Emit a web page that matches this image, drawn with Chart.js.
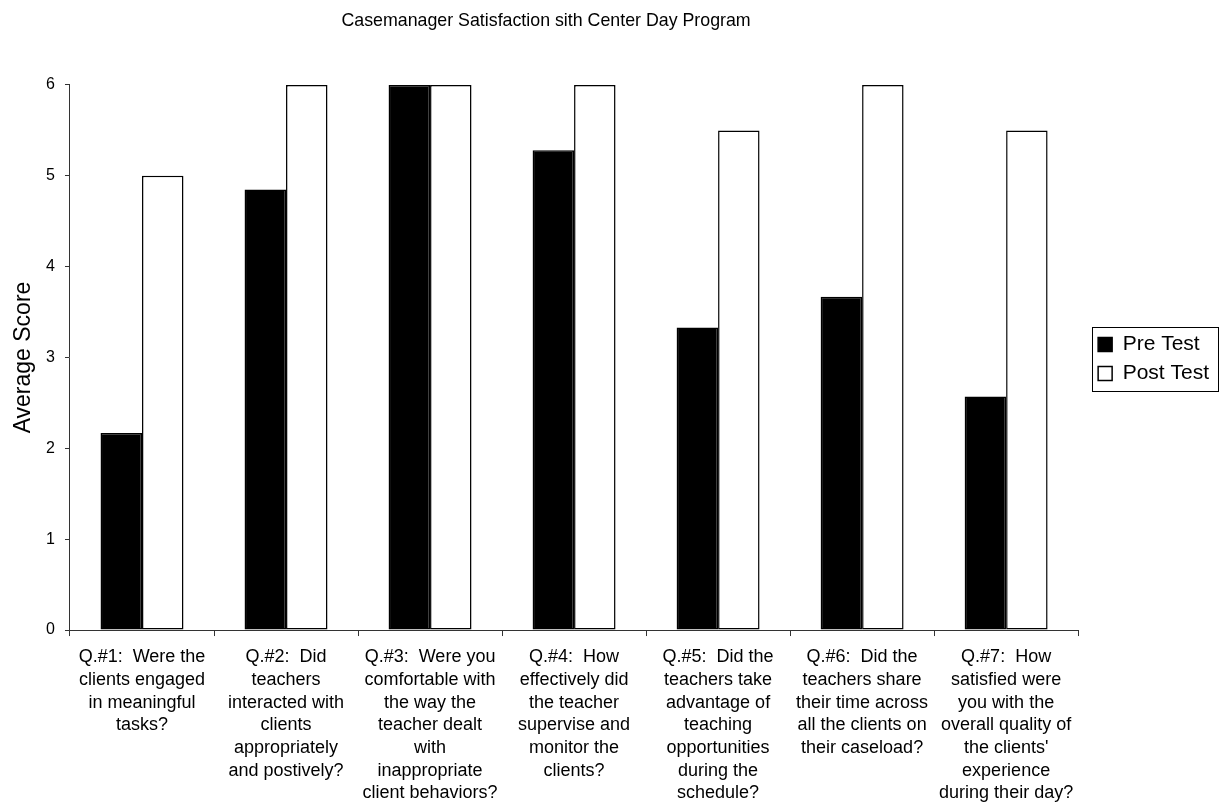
<!DOCTYPE html>
<html>
<head>
<meta charset="utf-8">
<script src="https://cdn.jsdelivr.net/npm/chart.js@4.4.0/dist/chart.umd.min.js"></script>
<style>
html, body { margin: 0; padding: 0; background: #ffffff; }
#wrap { width: 1228px; height: 805px; position: relative; }
</style>
</head>
<body>
<div id="wrap"><canvas id="c" width="1228" height="805"></canvas></div>
<script>
// ---- data ----
const chartTitle = "Casemanager Satisfaction sith Center Day Program";
const yAxisTitle = "Average Score";
const seriesNames = ["Pre Test", "Post Test"];
const categories = [
  ["Q.#1:  Were the", "clients engaged", "in meaningful", "tasks?"],
  ["Q.#2:  Did", "teachers", "interacted with", "clients", "appropriately", "and postively?"],
  ["Q.#3:  Were you", "comfortable with", "the way the", "teacher dealt", "with", "inappropriate", "client behaviors?"],
  ["Q.#4:  How", "effectively did", "the teacher", "supervise and", "monitor the", "clients?"],
  ["Q.#5:  Did the", "teachers take", "advantage of", "teaching", "opportunities", "during the", "schedule?"],
  ["Q.#6:  Did the", "teachers share", "their time across", "all the clients on", "their caseload?"],
  ["Q.#7:  How", "satisfied were", "you with the", "overall quality of", "the clients'", "experience", "during their day?"]
];
const preTest  = [2.17, 4.85, 6, 5.28, 3.33, 3.67, 2.57];
const postTest = [5, 6, 6, 6, 5.5, 6, 5.5];
const yTicks = [0, 1, 2, 3, 4, 5, 6];

const FONT = "'Liberation Sans', Arial, Helvetica, sans-serif";
const AXIS_COLOR = '#333333';

const legendFrame = {
  id: 'legendFrame',
  beforeDraw(chart) {
    const lg = chart.legend;
    const pad = lg.options.labels.padding;
    const shift = chart.chartArea.right + 20 - pad - lg.left;
    lg.left += shift; lg.right += shift;
    lg.top += 1.5; lg.bottom += 1.5;
    lg.legendHitBoxes.forEach(h => { h.left += shift; h.top += 1.5; });
    const markerLeft = lg.left + pad;
    const colW = lg.columnSizes[0].width;
    const hb = lg.legendHitBoxes;
    chart.$frame = {
      left: markerLeft - 6,
      right: markerLeft + colW + 9,
      top: hb[0].top - 7,
      bottom: hb[hb.length - 1].top + hb[hb.length - 1].height + 7
    };
    const t = chart.titleBlock;
    t.left = 0; t.right = chart.$frame.left;
  },
  afterDraw(chart) {
    const f = chart.$frame; if (!f) return;
    const ctx = chart.ctx;
    ctx.save();
    ctx.strokeStyle = '#000';
    ctx.lineWidth = 1;
    ctx.strokeRect(Math.round(f.left) + 0.5, Math.round(f.top) + 0.5,
                   Math.round(f.right - f.left), Math.round(f.bottom - f.top));
    ctx.restore();
  }
};

new Chart(document.getElementById('c'), {
  type: 'bar',
  data: {
    labels: categories,
    datasets: [
      { label: seriesNames[0], data: preTest, backgroundColor: '#000000', borderColor: '#000000', borderWidth: 1.5, borderSkipped: false },
      { label: seriesNames[1], data: postTest, backgroundColor: '#ffffff', borderColor: '#000000', borderWidth: 1.5, borderSkipped: false }
    ]
  },
  options: {
    responsive: false,
    animation: false,
    devicePixelRatio: 1,
    layout: { padding: { left: 0, right: 21, top: 0, bottom: -9.8 } },
    datasets: { bar: { categoryPercentage: 0.576, barPercentage: 1 } },
    plugins: {
      title: {
        display: true, text: chartTitle, color: '#000',
        font: { family: FONT, size: 17.8, weight: 'normal', lineHeight: 1.2 },
        padding: { top: 10.5, bottom: 53.1 }
      },
      legend: {
        display: true, position: 'right', fullSize: false,
        labels: {
          color: '#000', boxWidth: 14, boxHeight: 14, padding: 8,
          font: { family: FONT, size: 21 }
        }
      },
      tooltip: { enabled: false }
    },
    scales: {
      x: {
        grid: { display: true, drawOnChartArea: false, drawTicks: true, tickLength: 6, color: AXIS_COLOR, offset: true },
        border: { display: true, color: AXIS_COLOR, width: 1 },
        ticks: { color: '#000', maxRotation: 0, minRotation: 0, autoSkip: false, padding: 10,
                 font: { family: FONT, size: 18, lineHeight: 1.26 } }
      },
      y: {
        min: 0, max: 6,
        afterBuildTicks: (axis) => { axis.ticks = yTicks.map(v => ({ value: v })); },
        grid: { display: true, drawOnChartArea: false, drawTicks: true, tickLength: 5, color: AXIS_COLOR },
        border: { display: true, color: AXIS_COLOR, width: 1 },
        ticks: { color: '#000', padding: 10, font: { family: FONT, size: 16 } },
        title: { display: true, text: yAxisTitle, color: '#000',
                 font: { family: FONT, size: 23, lineHeight: 1.0 },
                 padding: { top: 12.5, bottom: 0.6 } }
      }
    }
  },
  plugins: [legendFrame]
});
</script>
</body>
</html>
